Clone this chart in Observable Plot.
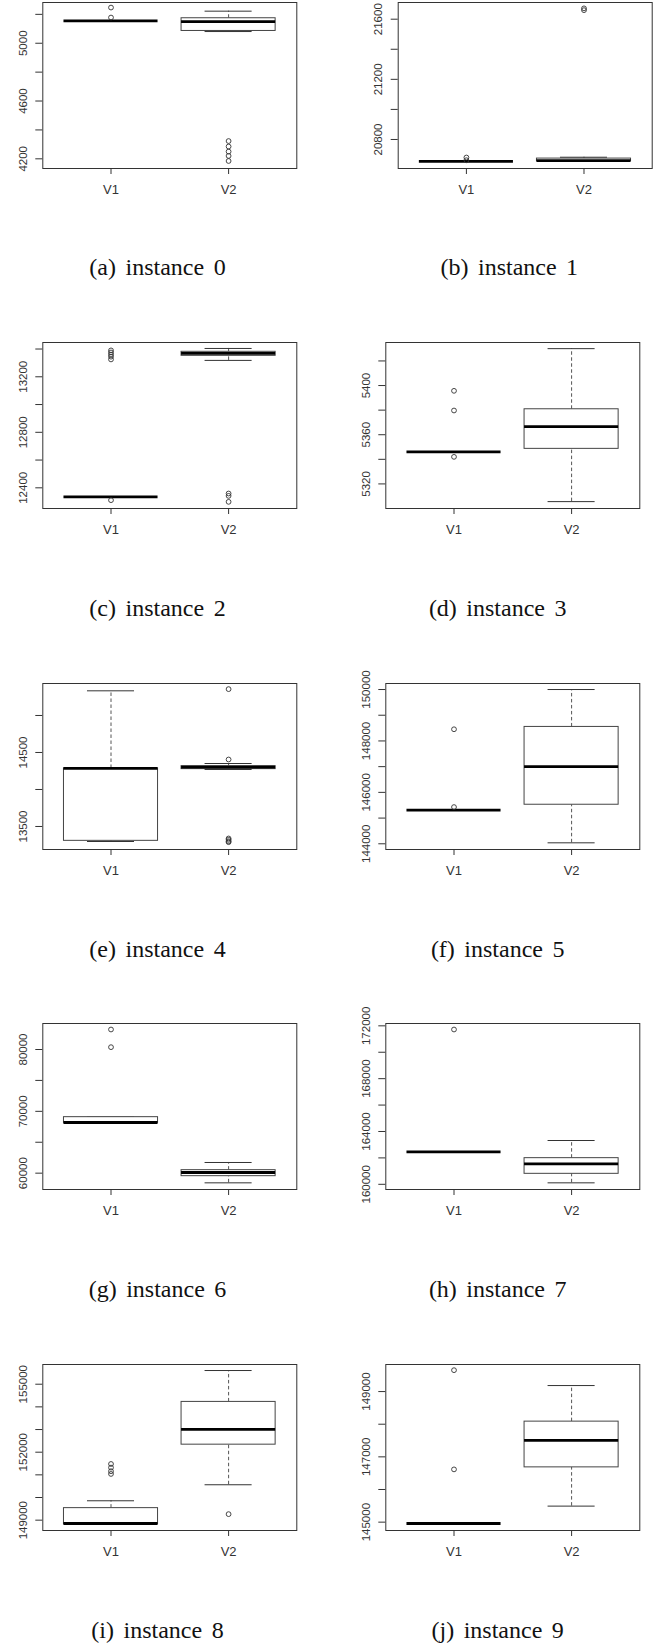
<!DOCTYPE html>
<html><head><meta charset="utf-8">
<script src="https://cdn.jsdelivr.net/npm/d3@7"></script>
<script src="https://cdn.jsdelivr.net/npm/@observablehq/plot@0.6"></script>
<style>
body{margin:0;background:#fff;}
#page{position:relative;width:662px;height:1643px;overflow:hidden;background:#fff;}
.panel{position:absolute;}
.cap{position:absolute;width:240px;font-family:"Liberation Serif","Times New Roman",serif;font-size:24px;word-spacing:3.5px;white-space:nowrap;line-height:1;text-align:center;color:#111;}
</style></head><body><div id="page"></div>
<script>
// ---------- data ----------
const groups = ["V1", "V2"];
const captions = ["(a) instance 0","(b) instance 1","(c) instance 2","(d) instance 3","(e) instance 4",
                  "(f) instance 5","(g) instance 6","(h) instance 7","(i) instance 8","(j) instance 9"];
// [lower whisker, Q1, median, Q3, upper whisker]
const statsV1 = [
  [5155,5155,5155,5155,5155],
  [20655,20655,20655,20655,20655],
  [12335,12335,12335,12335,12335],
  [5346,5346,5346,5346,5346],
  [13297,13306,14284,14284,15333],
  [145311,145311,145311,145311,145311],
  [68140,68140,68194,69056,69056],
  [162459,162459,162459,162459,162459],
  [148824,148824,148853,149531,149856],
  [144959,144959,144959,144959,144959]
];
const statsV2 = [
  [5081,5085,5150,5173,5222],
  [20656,20656,20660,20673,20682],
  [13318,13351,13368,13380,13404],
  [5305.6,5348.5,5366.6,5380.7,5430],
  [14270,14275,14302,14315,14351],
  [144038,145519,147000,148545,150000],
  [58436,59514,60108,60485,61725],
  [160112,160794,161551,161980,163317],
  [150563,152332,153010,154219,155604],
  [145491,146678,147506,148079,149184]
];
const outliersV1 = [
  [5247,5178],
  [20680,20662],
  [13390,13375,13360,13345,13325,12311],
  [5395.7,5379.7,5342],
  [],
  [148454,145428],
  [83235,80377],
  [171722],
  [151480,151320,151160,151040],
  [149655,146616]
];
const outliersV2 = [
  [4323,4285,4250,4220,4185],
  [21672,21660],
  [12359,12342,12299],
  [],
  [15356,14405,13338,13320,13300,13288],
  [],
  [],
  [],
  [149266],
  []
];
const yDomains = [
  [4133,5282],[20607,21711],[12251,13447],[5300,5435],[13189,15432],
  [143778,150234],[57358,84205],[159607,172177],[148544,155870],[144744,149829]
];
const yTicks = [
  [4200,4400,4600,4800,5000,5200],
  [20800,21000,21200,21400,21600],
  [12400,12600,12800,13000,13200,13400],
  [5320,5340,5360,5380,5400,5420],
  [13500,14000,14500,15000],
  [144000,145000,146000,147000,148000,149000,150000],
  [60000,65000,70000,75000,80000],
  [160000,162000,164000,166000,168000,170000,172000],
  [149000,150000,151000,152000,153000,154000,155000],
  [145000,146000,147000,148000,149000]
];
const yLabels = [
  [4200,4600,5000],
  [20800,21200,21600],
  [12400,12800,13200],
  [5320,5360,5400],
  [13500,14500],
  [144000,146000,148000,150000],
  [60000,70000,80000],
  [160000,164000,168000,172000],
  [149000,152000,155000],
  [145000,147000,149000]
];

// ---------- layout ----------
const frameLeft = [42.3,397.7,42.3,385.3,42.3,385.3,42.3,385.3,42.3,385.3];
const frameWidth = 254;
const frameHeight = 166;
const rowTop = [1.7,342.3,683.3,1023.3,1364.3];
const capCenterX = [157.5,509.3,157.5,497.7,157.5,497.7,157.5,497.7,157.5,497.7];
const capBaselineOffset = 273.5;

const page = document.getElementById("page");
const mt = 10, mb = 46;

for (let k = 0; k < 10; k++) {
  const col = k % 2, row = Math.floor(k / 2);
  const colX = col * 331;
  const stats = groups.map((g, j) => {
    const s = (j ? statsV2 : statsV1)[k];
    return {i: j + 1, lo: s[0], q1: s[1], med: s[2], q3: s[3], hi: s[4]};
  });
  const outs = groups.flatMap((g, j) => (j ? outliersV2 : outliersV1)[k].map(v => ({i: j + 1, v})));
  const labs = yLabels[k];
  const chart = Plot.plot({
    width: 331,
    height: mt + frameHeight + mb,
    marginLeft: frameLeft[k] - colX,
    marginRight: colX + 331 - frameLeft[k] - frameWidth,
    marginTop: mt,
    marginBottom: mb,
    style: {fontFamily: "'Liberation Sans', Arial, sans-serif", fontSize: "11.5px", color: "#333", background: "transparent", overflow: "visible"},
    x: {domain: [0.42, 2.58], label: null},
    y: {domain: yDomains[k], label: null},
    marks: [
      Plot.ruleX(stats, {x: "i", y1: "q3", y2: "hi", stroke: "#555", strokeDasharray: "3.5 2.5"}),
      Plot.ruleX(stats, {x: "i", y1: "lo", y2: "q1", stroke: "#555", strokeDasharray: "3.5 2.5"}),
      Plot.ruleY(stats, {y: "hi", x1: d => d.i - 0.2, x2: d => d.i + 0.2, stroke: "#333"}),
      Plot.ruleY(stats, {y: "lo", x1: d => d.i - 0.2, x2: d => d.i + 0.2, stroke: "#333"}),
      Plot.rect(stats, {x1: d => d.i - 0.4, x2: d => d.i + 0.4, y1: "q1", y2: "q3", fill: "white", stroke: "#444"}),
      Plot.ruleY(stats, {y: "med", x1: d => d.i - 0.4, x2: d => d.i + 0.4, stroke: "black", strokeWidth: 2.8}),
      Plot.dot(outs, {x: "i", y: "v", r: 2.4, stroke: "#333", strokeWidth: 0.9, fill: "none"}),
      Plot.frame({stroke: "#333"}),
      Plot.axisY({ticks: yTicks[k], tickSize: 7, tickPadding: 9, tickRotate: -90, label: null,
                  tickFormat: d => labs.includes(d) ? String(d) : ""}),
      Plot.axisX({ticks: [1, 2], tickSize: 6, tickPadding: 10.5, fontSize: 13, label: null,
                  tickFormat: d => groups[d - 1]})
    ]
  });
  const div = document.createElement("div");
  div.className = "panel";
  div.style.left = colX + "px";
  div.style.top = (rowTop[row] - mt) + "px";
  div.appendChild(chart);
  page.appendChild(div);

  const cap = document.createElement("div");
  cap.className = "cap";
  cap.textContent = captions[k];
  const baseline = rowTop[row] + capBaselineOffset;
  cap.style.left = (capCenterX[k] - 120) + "px";
  cap.style.top = (baseline - 0.837 * 24) + "px";
  page.appendChild(cap);
}
</script>
</body></html>
